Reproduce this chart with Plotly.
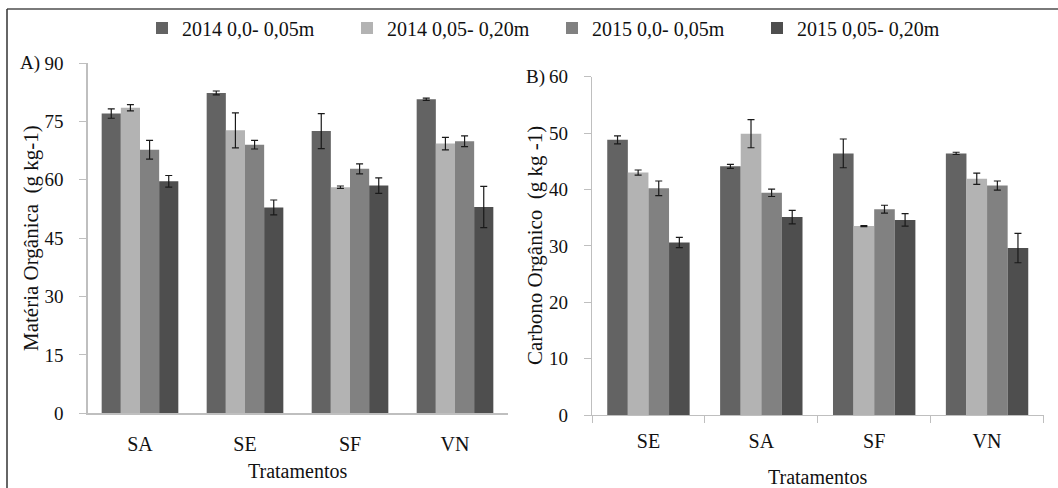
import plotly.graph_objects as go

# ---------------- data ----------------
series_names = ["2014 0,0- 0,05m", "2014 0,05- 0,20m", "2015 0,0- 0,05m", "2015 0,05- 0,20m"]
colors = ["#636363", "#b3b3b3", "#818181", "#4e4e4e"]

cats_a = ["SA", "SE", "SF", "VN"]
mo_2014_0_5 = [77.0, 82.3, 72.5, 80.7]
mo_2014_5_20 = [78.5, 72.7, 58.1, 69.3]
mo_2015_0_5 = [67.7, 69.0, 62.8, 69.9]
mo_2015_5_20 = [59.6, 52.9, 58.5, 53.0]
mo_err_2014_0_5 = [1.2, 0.5, 4.5, 0.3]
mo_err_2014_5_20 = [0.8, 4.5, 0.3, 1.6]
mo_err_2015_0_5 = [2.4, 1.1, 1.3, 1.4]
mo_err_2015_5_20 = [1.5, 1.9, 2.0, 5.3]

cats_b = ["SE", "SA", "SF", "VN"]
co_2014_0_5 = [48.8, 44.1, 46.4, 46.4]
co_2014_5_20 = [43.0, 49.9, 33.5, 41.9]
co_2015_0_5 = [40.2, 39.4, 36.5, 40.7]
co_2015_5_20 = [30.6, 35.1, 34.6, 29.6]
co_err_2014_0_5 = [0.7, 0.35, 2.55, 0.2]
co_err_2014_5_20 = [0.45, 2.5, 0.08, 1.0]
co_err_2015_0_5 = [1.3, 0.65, 0.7, 0.8]
co_err_2015_5_20 = [0.9, 1.2, 1.1, 2.6]

ticks_a = [0, 15, 30, 45, 60, 75, 90]
ticks_b = [0, 10, 20, 30, 40, 50, 60]

mo_vals = [mo_2014_0_5, mo_2014_5_20, mo_2015_0_5, mo_2015_5_20]
mo_errs = [mo_err_2014_0_5, mo_err_2014_5_20, mo_err_2015_0_5, mo_err_2015_5_20]
co_vals = [co_2014_0_5, co_2014_5_20, co_2015_0_5, co_2015_5_20]
co_errs = [co_err_2014_0_5, co_err_2014_5_20, co_err_2015_0_5, co_err_2015_5_20]

W, H = 1058, 488
FONT = "Liberation Serif, Times New Roman, serif"
TXT = "#111111"
AX = "#bfbfbf"

def px(x):
    return x / W

def py(y):
    return 1 - y / H

fig = go.Figure()
for i in range(4):
    fig.add_trace(go.Bar(
        x=cats_a, y=mo_vals[i], name=series_names[i], marker_color=colors[i],
        marker_line_width=0, xaxis="x", yaxis="y", legendgroup=str(i),
        error_y=dict(type="data", array=mo_errs[i], color="#1a1a1a", thickness=1.2, width=3.5),
    ))
for i in range(4):
    fig.add_trace(go.Bar(
        x=cats_b, y=co_vals[i], name=series_names[i], marker_color=colors[i],
        marker_line_width=0, xaxis="x2", yaxis="y2", legendgroup=str(i), showlegend=False,
        error_y=dict(type="data", array=co_errs[i], color="#1a1a1a", thickness=1.2, width=3.5),
    ))

fig.update_layout(
    width=W, height=H,
    margin=dict(l=0, r=0, t=0, b=0, autoexpand=False),
    paper_bgcolor="white", plot_bgcolor="white",
    barmode="group", bargap=0.27, bargroupgap=0,
    font=dict(family=FONT, color=TXT, size=19),
    showlegend=True,
    legend=dict(
        orientation="h", x=px(142), xanchor="left", y=py(28), yanchor="middle",
        font=dict(family=FONT, size=20, color=TXT),
        entrywidth=160, entrywidthmode="pixels", itemwidth=30,
        bgcolor="rgba(0,0,0,0)", traceorder="normal",
    ),
    xaxis=dict(
        domain=[px(87.5), px(507.5)], anchor="y", type="category",
        showline=True, linecolor=AX, linewidth=1.3, ticks="", showgrid=False,
        tickfont=dict(family=FONT, size=20, color=TXT), ticklabelstandoff=12,
    ),
    yaxis=dict(
        domain=[py(413.3), py(63)], anchor="x", range=[0, 90],
        tickvals=ticks_a, ticktext=[str(t) for t in ticks_a],
        showline=True, linecolor=AX, linewidth=1.3, ticks="outside", ticklen=7,
        tickcolor=AX, showgrid=False, zeroline=False,
        tickfont=dict(family=FONT, size=19, color=TXT), ticklabelstandoff=12,
    ),
    xaxis2=dict(
        domain=[px(592), px(1043.5)], anchor="y2", type="category",
        showline=True, linecolor=AX, linewidth=1.3, ticks="outside", ticklen=7,
        tickcolor=AX, tickson="boundaries", showgrid=False,
        tickfont=dict(family=FONT, size=20, color=TXT), ticklabelstandoff=8,
    ),
    yaxis2=dict(
        domain=[py(415), py(76.7)], anchor="x2", range=[0, 60],
        tickvals=ticks_b, ticktext=[str(t) for t in ticks_b],
        showline=True, linecolor=AX, linewidth=1.3, ticks="outside", ticklen=7,
        tickcolor=AX, showgrid=False, zeroline=False,
        tickfont=dict(family=FONT, size=19, color=TXT), ticklabelstandoff=12,
    ),
)

annos = [
    dict(text="Matéria Orgânica  (g kg-1)", x=px(31), y=py(238), textangle=-90, size=21),
    dict(text="Carbono Orgânico  (g kg -1)", x=px(535), y=py(246), textangle=-90, size=21),
    dict(text="A)", x=px(30), y=py(63), textangle=0, size=19),
    dict(text="B)", x=px(535), y=py(76.7), textangle=0, size=19),
    dict(text="Tratamentos", x=px(297.5), y=py(471), textangle=0, size=20),
    dict(text="Tratamentos", x=px(817.5), y=py(477), textangle=0, size=20),
]
for a in annos:
    fig.add_annotation(
        text=a["text"], x=a["x"], y=a["y"], xref="paper", yref="paper",
        xanchor="center", yanchor="middle", showarrow=False, textangle=a["textangle"],
        font=dict(family=FONT, size=a["size"], color=TXT),
    )

# figure frame (top and left edges)
fig.add_shape(type="line", xref="paper", yref="paper", x0=px(7), x1=1, y0=py(9), y1=py(9),
              line=dict(color="#7a7a7a", width=2))
fig.add_shape(type="line", xref="paper", yref="paper", x0=px(7), x1=px(7), y0=py(9), y1=0,
              line=dict(color="#333333", width=1.5))

fig.write_html(
    "out.html",
    config={"displayModeBar": False, "staticPlot": True},
    post_script="document.body.style.margin='0';document.body.style.overflow='hidden';",
)
